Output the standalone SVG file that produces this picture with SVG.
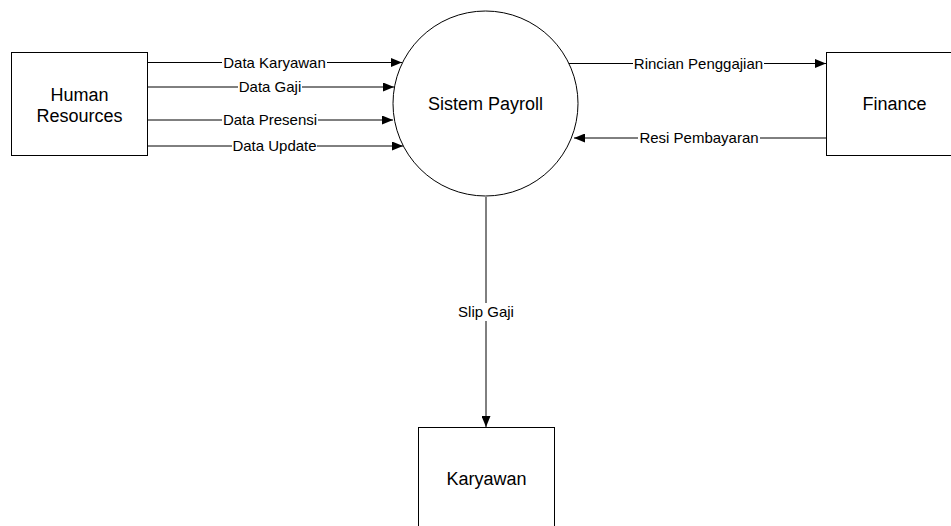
<svg xmlns="http://www.w3.org/2000/svg" width="951" height="526" viewBox="0 0 951 526">
  <style>
    .box { fill: #fff; stroke: #000; stroke-width: 1; }
    .node-text { font-family: "Liberation Sans", Arial, sans-serif; font-size: 18px; fill: #000; text-anchor: middle; }
    .flow { stroke: #000; stroke-width: 1; fill: none; marker-end: url(#arrow); }
    .label { font-family: "Liberation Sans", Arial, sans-serif; font-size: 15px; fill: #000; text-anchor: middle; }
    .label-bg { fill: #fff; }
  </style>
  <defs>
    <marker id="arrow" viewBox="0 0 11 9" refX="11" refY="4.5" markerWidth="11" markerHeight="9" markerUnits="userSpaceOnUse" orient="auto">
      <path d="M0,0 L11,4.5 L0,9 Z" fill="#000"/>
    </marker>
  </defs>
  <rect width="951" height="526" fill="#fff"/>

  <!-- data flows -->
  <g id="connectors">
    <line class="flow" x1="147" y1="62.5" x2="402" y2="62.5"/>
    <line class="flow" x1="147" y1="87" x2="394" y2="87"/>
    <line class="flow" x1="147" y1="120" x2="393" y2="120"/>
    <line class="flow" x1="147" y1="146" x2="403" y2="146"/>
    <line class="flow" x1="569" y1="63.5" x2="826" y2="63.5"/>
    <line class="flow" x1="826" y1="138" x2="574" y2="138"/>
    <line class="flow" x1="486" y1="197" x2="486" y2="427"/>

    <rect class="label-bg" x="222" y="54" width="105" height="17"/>
    <text class="label" x="274.5" y="67.5">Data Karyawan</text>
    <rect class="label-bg" x="238" y="79" width="64" height="17"/>
    <text class="label" x="270" y="92">Data Gaji</text>
    <rect class="label-bg" x="222" y="112" width="96" height="17"/>
    <text class="label" x="270" y="125">Data Presensi</text>
    <rect class="label-bg" x="232" y="138" width="85" height="17"/>
    <text class="label" x="274.5" y="151">Data Update</text>
    <rect class="label-bg" x="633" y="55" width="131" height="17"/>
    <text class="label" x="698.5" y="68.5">Rincian Penggajian</text>
    <rect class="label-bg" x="638" y="130" width="122" height="17"/>
    <text class="label" x="699" y="143">Resi Pembayaran</text>
    <rect class="label-bg" x="456" y="303" width="60" height="18"/>
    <text class="label" x="486" y="317">Slip Gaji</text>
  </g>

  <g id="human-resources">
    <rect class="box" x="11.5" y="52.5" width="136" height="103"/>
    <text class="node-text" x="79.5" y="101">Human</text>
    <text class="node-text" x="79.5" y="121.5">Resources</text>
  </g>

  <g id="sistem-payroll">
    <circle class="box" cx="485.5" cy="103.5" r="92.5"/>
    <text class="node-text" x="485.5" y="110">Sistem Payroll</text>
  </g>

  <g id="finance">
    <rect class="box" x="826.5" y="52.5" width="136" height="103"/>
    <text class="node-text" x="894.5" y="110">Finance</text>
  </g>

  <g id="karyawan">
    <rect class="box" x="418.5" y="427.5" width="136" height="103"/>
    <text class="node-text" x="486.5" y="484.5">Karyawan</text>
  </g>
</svg>
